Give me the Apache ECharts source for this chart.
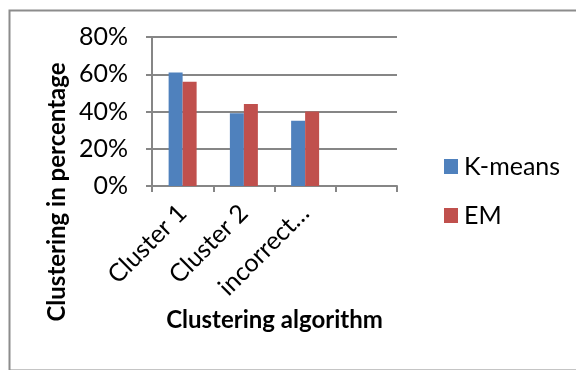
<!DOCTYPE html>
<html><head><meta charset="utf-8">
<script src="https://cdn.jsdelivr.net/npm/echarts@6/dist/echarts.min.js"></script>
<style>html,body{margin:0;padding:0;background:#fff}#c{width:576px;height:370px}</style>
</head><body><div id="c"></div>
<script>
const categories = ['Cluster 1', 'Cluster 2', 'incorrect…', ''];
const kmeans = [0.61, 0.39, 0.35, null];
const em = [0.56, 0.44, 0.40, null];
const yTicks = [0, 0.2, 0.4, 0.6, 0.8];
const seriesNames = ['K-means', 'EM'];
const xTitle = 'Clustering algorithm';
const yTitle = 'Clustering in percentage';

const font = "Lato, 'Open Sans', sans-serif";
const chart = echarts.init(document.getElementById('c'), null, {renderer: 'canvas'});
chart.setOption({
  animation: false,
  backgroundColor: '#fff',
  graphic: [{
    type: 'rect', left: 7, top: 8, shape: {width: 580, height: 360},
    style: {fill: 'none', stroke: '#8c8c8c', lineWidth: 2}, silent: true
  }, {
    type: 'text', x: 57, y: 192, rotation: Math.PI / 2,
    style: {text: yTitle, font: "bold 24px " + font, fill: '#000', align: 'center', verticalAlign: 'middle'},
    silent: true
  }],
  grid: {left: 152, right: 179, top: 37, bottom: 184, containLabel: false},
  legend: {
    orient: 'vertical', left: 439, top: 149, itemWidth: 14, itemHeight: 15, itemGap: 24,
    icon: 'rect',
    textStyle: {fontFamily: font, fontSize: 25, color: '#000', padding: [0, 0, 0, 1]},
    data: seriesNames
  },
  xAxis: {
    type: 'category', data: categories,
    name: xTitle, nameLocation: 'middle', nameGap: 122,
    nameTextStyle: {fontFamily: font, fontSize: 24, fontWeight: 'bold', color: '#000'},
    axisLine: {lineStyle: {color: '#868686', width: 2}},
    axisTick: {show: true, length: 6, lineStyle: {color: '#868686', width: 2}},
    axisLabel: {rotate: 45, fontFamily: font, fontSize: 25, color: '#000', margin: 23, interval: 0}
  },
  yAxis: {
    type: 'value', min: 0, max: 0.8, interval: 0.2,
    axisLine: {show: true, lineStyle: {color: '#868686', width: 2}},
    axisTick: {show: true, length: 6, lineStyle: {color: '#868686', width: 2}},
    splitLine: {lineStyle: {color: '#868686', width: 2}},
    axisLabel: {fontFamily: font, fontSize: 25, color: '#000', margin: 24,
      formatter: v => Math.round(v * 100) + '%'}
  },
  series: [
    {name: seriesNames[0], type: 'bar', data: kmeans, barWidth: 14, barGap: '0%',
     itemStyle: {color: '#4F81BD'}},
    {name: seriesNames[1], type: 'bar', data: em, barWidth: 14, barGap: '0%',
     itemStyle: {color: '#C0504D'}}
  ]
});
</script></body></html>
